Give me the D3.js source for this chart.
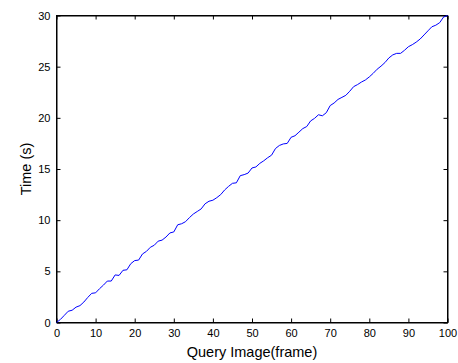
<!DOCTYPE html>
<html>
<head>
<meta charset="utf-8">
<script src="https://cdn.jsdelivr.net/npm/d3@7"></script>
<style>
  html, body { margin: 0; padding: 0; background: #fff; }
  svg { display: block; }
  text { font-family: "Liberation Sans", Arial, sans-serif; fill: #000; }
</style>
</head>
<body>
<svg id="chart" width="458" height="363"></svg>
<script>
const frames = d3.range(0, 101);
const timeValues = [
  0, 0.3, 0.7, 1.1, 1.2, 1.5, 1.65, 2.0, 2.45, 2.85,
  2.9, 3.3, 3.65, 4.05, 4.05, 4.65, 4.6, 5.1, 5.15, 5.75,
  6.05, 6.1, 6.7, 6.95, 7.35, 7.55, 7.95, 8.05, 8.35, 8.75,
  8.85, 9.55, 9.65, 9.85, 10.25, 10.6, 10.85, 11.1, 11.6, 11.85,
  11.95, 12.2, 12.5, 12.95, 13.3, 13.6, 13.65, 14.35, 14.45, 14.6,
  15.1, 15.2, 15.55, 15.8, 16.1, 16.35, 17.0, 17.3, 17.45, 17.5,
  18.1, 18.25, 18.6, 18.95, 19.15, 19.7, 19.95, 20.3, 20.2, 20.5,
  21.2, 21.45, 21.8, 22.0, 22.2, 22.6, 23.05, 23.25, 23.5, 23.7,
  24.0, 24.35, 24.75, 25.05, 25.4, 25.85, 26.15, 26.3, 26.3, 26.6,
  26.95, 27.15, 27.4, 27.7, 28.1, 28.5, 28.9, 29.05, 29.3, 29.85,
  30.0
];
const xTicks = [0, 10, 20, 30, 40, 50, 60, 70, 80, 90, 100];
const yTicks = [0, 5, 10, 15, 20, 25, 30];
const xLabel = "Query Image(frame)";
const yLabel = "Time (s)";

const mLeft = 56.5, mRight = 447.5, mTop = 15.5, mBottom = 322.5;
const svg = d3.select("#chart");
const x = d3.scaleLinear().domain([0, 100]).range([mLeft, mRight]);
const y = d3.scaleLinear().domain([0, 30]).range([mBottom, mTop]);

const tl = 4;
const gx = svg.append("g").attr("transform", `translate(0,${mBottom})`)
  .call(d3.axisBottom(x).tickValues(xTicks).tickSizeInner(-tl).tickSizeOuter(0).tickPadding(7));
const gxt = svg.append("g").attr("transform", `translate(0,${mTop})`)
  .call(d3.axisTop(x).tickValues(xTicks).tickSizeInner(-tl).tickSizeOuter(0).tickFormat(""));
const gy = svg.append("g").attr("transform", `translate(${mLeft},0)`)
  .call(d3.axisLeft(y).tickValues(yTicks).tickSizeInner(-tl).tickSizeOuter(0).tickPadding(6));
const gyr = svg.append("g").attr("transform", `translate(${mRight},0)`)
  .call(d3.axisRight(y).tickValues(yTicks).tickSizeInner(-tl).tickSizeOuter(0).tickFormat(""));

[gx, gxt, gy, gyr].forEach(g => {
  g.select(".domain").attr("stroke", "#000").attr("stroke-width", 1);
  g.selectAll(".tick line").attr("stroke", "#000").attr("stroke-width", 1);
  g.selectAll(".tick text").attr("font-family", "Liberation Sans, Arial, sans-serif")
    .attr("font-size", 11).attr("fill", "#000");
});

svg.append("rect").attr("x", mLeft).attr("y", mTop)
  .attr("width", mRight - mLeft).attr("height", mBottom - mTop)
  .attr("fill", "none").attr("stroke", "#000").attr("stroke-width", 1);

const line = d3.line().x((d, i) => x(frames[i])).y(d => y(d));
svg.append("path").datum(timeValues)
  .attr("d", line).attr("fill", "none")
  .attr("stroke", "#0000ff").attr("stroke-width", 1);

svg.append("text").attr("x", (mLeft + mRight) / 2).attr("y", 357)
  .attr("text-anchor", "middle").attr("font-size", 14.5).text(xLabel);
svg.append("text").attr("transform", `translate(31,${(mTop + mBottom) / 2}) rotate(-90)`)
  .attr("text-anchor", "middle").attr("font-size", 14.5).text(yLabel);
</script>
</body>
</html>
